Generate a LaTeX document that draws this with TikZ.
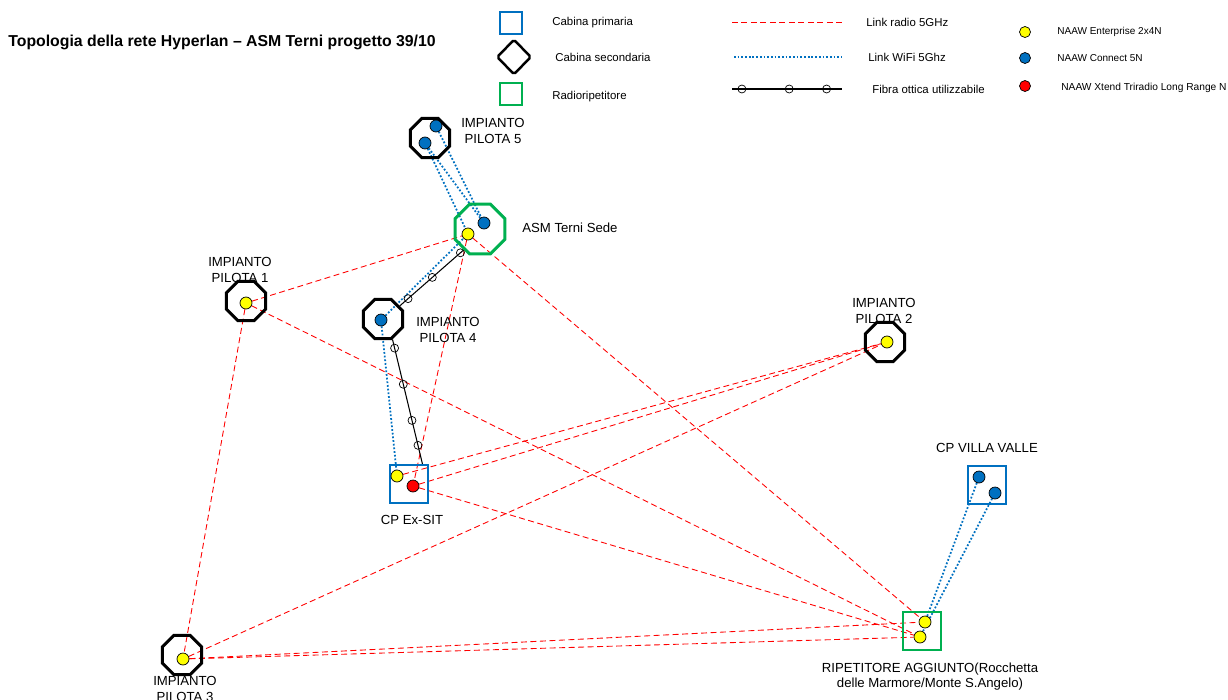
\documentclass[tikz,border=0pt]{standalone}
\usepackage{fontspec}
\setmainfont{Liberation Sans}
\usetikzlibrary{shapes.geometric, backgrounds}
\usepackage{xcolor}
\definecolor{cBlue}{HTML}{0070C0}
\definecolor{cGreen}{HTML}{00B050}
\definecolor{cRed}{HTML}{FF0000}
\definecolor{cYellow}{HTML}{FFFF00}
\tikzset{
  primbox/.style={
    draw=#1, line width=1.4pt, minimum size=0.75cm, inner sep=0pt,
  },
  primbox/.default=cBlue,
  secoct/.style={
    draw=#1, regular polygon, regular polygon sides=8,
    line width=1.7pt, minimum size=0.85cm, inner sep=0pt,
  },
  secoct/.default=black,
  devdot/.style={
    circle, draw=black, fill=#1, line width=0.4pt,
    minimum size=0.24cm, inner sep=0pt,
  },
  radiolink/.style={draw=cRed, line width=0.5pt, dash pattern=on 3.4pt off 2pt},
  wifilink/.style={draw=cBlue, line width=1pt, dash pattern=on 1pt off 1.1pt},
  fibrelink/.style={draw=black, line width=0.6pt},
  fibcirc/.style={circle, draw=black, line width=0.4pt, minimum size=0.16cm, inner sep=0pt},
  lbl/.style={font=\fontsize{7.5}{8.6}\selectfont, align=center, inner sep=0pt},
  lgtxt/.style={font=\fontsize{6.5}{7.5}\selectfont, anchor=west, inner sep=0pt},
}

\begin{document}
\begin{tikzpicture}[x=0.02cm, y=-0.02cm]
  \useasboundingbox (0,0) rectangle (1228,700);

  % Title
  \node[anchor=west, inner sep=0pt, font=\fontsize{9}{11}\selectfont\bfseries]
    (title) at (8,42) {Topologia della rete Hyperlan – ASM Terni progetto 39/10};

  % Legend: cabins
  \node[primbox, line width=1.2pt, minimum size=0.43cm] (lgprim) at (511,23) {};
  \node[lgtxt] (lgprimt) at (552,23) {Cabina primaria};
  \node[draw, diamond, line width=1.4pt, rounded corners=1pt,
        minimum width=0.69cm, minimum height=0.71cm, inner sep=0pt]
    (lgsec) at (514,57) {};
  \node[lgtxt] (lgsect) at (555,57) {Cabina secondaria};
  \node[primbox=cGreen, line width=1.2pt, minimum size=0.43cm] (lgrip) at (511,94) {};
  \node[lgtxt] (lgript) at (552,97) {Radioripetitore};

  % Legend: links
  \coordinate (lgr1) at (732,22);
  \coordinate (lgr2) at (842,22);
  \draw[radiolink] (lgr1) -- (lgr2);
  \node[lgtxt] (lgradio) at (866,22) {Link radio 5GHz};
  \coordinate (lgw1) at (734,57);
  \coordinate (lgw2) at (842,57);
  \draw[wifilink] (lgw1) -- (lgw2);
  \node[lgtxt] (lgwifi) at (868,57) {Link WiFi 5Ghz};
  \coordinate (lgf1) at (732,89);
  \coordinate (lgf2) at (842,89);
  \draw[fibrelink] (lgf1) -- node[fibcirc, pos=.09] {} node[fibcirc, pos=.52] {}
    node[fibcirc, pos=.86] {} (lgf2);
  \node[lgtxt] (lgfibra) at (872,89) {Fibra ottica utilizzabile};

  % Legend: devices
  \node[devdot=cYellow, minimum size=0.22cm] (lgent) at (1025,32) {};
  \node[lgtxt, font=\fontsize{5.7}{6.5}\selectfont] at (1057,32) {NAAW Enterprise 2x4N};
  \node[devdot=cBlue, minimum size=0.22cm] (lgconn) at (1025,58) {};
  \node[lgtxt, font=\fontsize{5.7}{6.5}\selectfont] at (1057,58) {NAAW Connect 5N};
  \node[devdot=cRed, minimum size=0.22cm] (lgxt) at (1025,86) {};
  \node[lgtxt, font=\fontsize{5.8}{6.5}\selectfont] at (1061,88) {NAAW Xtend Triradio Long Range N};

  % Sites
  \node[secoct] (p5) at (430,138) {};
  \node[secoct=cGreen, minimum size=1.08cm] (asm) at (480,229) {};
  \node[secoct] (p1) at (246,301) {};
  \node[secoct] (p4) at (383,319) {};
  \node[secoct] (p2) at (885,342) {};
  \node[secoct] (p3) at (182,655) {};
  \node[primbox] (cpsit) at (409,484) {};
  \node[primbox] (cpvv) at (987,485) {};
  \node[primbox=cGreen] (rip) at (922,631) {};

  % Devices
  \node[devdot=cBlue] (p5a) at (436,126) {};
  \node[devdot=cBlue] (p5b) at (425,143) {};
  \node[devdot=cBlue] (asmB) at (484,223) {};
  \node[devdot=cYellow] (asmY) at (468,234) {};
  \node[devdot=cYellow] (p1Y) at (246,303) {};
  \node[devdot=cBlue] (p4B) at (381,320) {};
  \node[devdot=cYellow] (sitY) at (397,476) {};
  \node[devdot=cRed] (sitR) at (413,486) {};
  \node[devdot=cYellow] (p2Y) at (887,342) {};
  \node[devdot=cYellow] (p3Y) at (183,659) {};
  \node[devdot=cBlue] (vvA) at (979,477) {};
  \node[devdot=cBlue] (vvB) at (995,493) {};
  \node[devdot=cYellow] (ripA) at (925,622) {};
  \node[devdot=cYellow] (ripB) at (920,637) {};

  % Labels
  \node[lbl] (p5t) at (493,131) {IMPIANTO\\PILOTA 5};
  \node[lbl, anchor=west] (asmt) at (522,228) {ASM Terni Sede};
  \node[lbl] (p1t) at (240,270) {IMPIANTO\\PILOTA 1};
  \node[lbl] (p4t) at (448,330) {IMPIANTO\\PILOTA 4};
  \node[lbl] (p2t) at (884,311) {IMPIANTO\\PILOTA 2};
  \node[lbl] (p3t) at (185,689) {IMPIANTO\\PILOTA 3};
  \node[lbl] (cpsitt) at (412,520) {CP Ex-SIT};
  \node[lbl] (cpvvt) at (987,448) {CP VILLA VALLE};
  \node[lbl] (ript) at (930,677) {RIPETITORE AGGIUNTO(Rocchetta\\delle Marmore/Monte S.Angelo)};

  \begin{scope}[on background layer]
    % Radio links
    \draw[radiolink] (p1Y) -- (asmY);
    \draw[radiolink] (p1Y) -- (ripB);
    \draw[radiolink] (p1Y) -- (p3Y);
    \draw[radiolink] (asmY) -- (sitR);
    \draw[radiolink] (asmY) -- (ripA);
    \draw[radiolink] (sitY) -- (p2Y);
    \draw[radiolink] (sitR) -- (p2Y);
    \draw[radiolink] (sitR) -- (ripB);
    \draw[radiolink] (p3Y) -- (p2Y);
    \draw[radiolink] (p3Y) -- (ripA);
    \draw[radiolink] (p3Y) -- (ripB);

    % WiFi links
    \draw[wifilink] (p5a) -- (asmB);
    \draw[wifilink] (p5b) -- (asmB);
    \draw[wifilink] (p5b) -- (asmY);
    \draw[wifilink] (p4B) -- (asmY);
    \draw[wifilink] (p4B) -- (sitY);
    \draw[wifilink] (vvA) -- (ripA);
    \draw[wifilink] (vvB) -- (ripB);

    % Fibre
    \draw[fibrelink] (asm.232) -- node[fibcirc, pos=.05] {} node[fibcirc, pos=.49] {}
      node[fibcirc, pos=.87] {} (p4.38);
    \draw[fibrelink] (p4.-65) -- node[fibcirc, pos=.07] {} node[fibcirc, pos=.36] {}
      node[fibcirc, pos=.65] {} node[fibcirc, pos=.85] {} (cpsit.56);
  \end{scope}

\end{tikzpicture}
\end{document}
